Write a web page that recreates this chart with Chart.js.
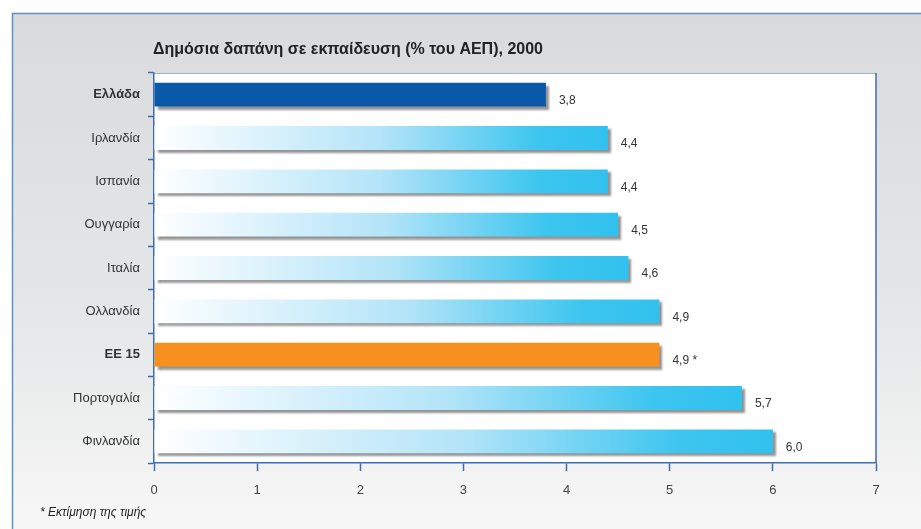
<!DOCTYPE html>
<html>
<head>
<meta charset="utf-8">
<script src="https://cdn.jsdelivr.net/npm/chart.js@4.4.1/dist/chart.umd.min.js"></script>
<style>
  html, body { margin: 0; padding: 0; background: #fff; }
  #wrap { width: 921px; height: 529px; position: relative; }
</style>
</head>
<body>
<div id="wrap"><canvas id="BarChart" width="921" height="529"></canvas></div>
<script>
// 데이터
const countries = ['Ελλάδα', 'Ιρλανδία', 'Ισπανία', 'Ουγγαρία', 'Ιταλία', 'Ολλανδία', 'ΕΕ 15', 'Πορτογαλία', 'Φινλανδία'];
const spending = [3.8, 4.4, 4.4, 4.5, 4.6, 4.9, 4.9, 5.7, 6.0];
const valueLabels = ['3,8', '4,4', '4,4', '4,5', '4,6', '4,9', '4,9 *', '5,7', '6,0'];
const xTicks = [0, 1, 2, 3, 4, 5, 6, 7];
const boldRows = ['Ελλάδα', 'ΕΕ 15'];

const titleText = 'Δημόσια δαπάνη σε εκπαίδευση (% του ΑΕΠ), 2000';
const footText = '* Εκτίμηση της τιμής';
const FONT = '"Liberation Sans", Arial, sans-serif';
const AXIS_BLUE = '#3d6db3';

// 막대 색: 그리스는 진한 파랑, EU15는 주황, 나머지는 그라데이션
const barColor = (context) => {
    const label = countries[context.dataIndex];
    if (label === 'Ελλάδα') return '#0b5aa9';
    if (label === 'ΕΕ 15') return '#f7901e';
    const chart = context.chart;
    const area = chart.chartArea;
    if (!area) return '#8fd6f5';
    const xs = chart.scales.x;
    const x0 = xs.getPixelForValue(0);
    const x1 = xs.getPixelForValue(spending[context.dataIndex]);
    const g = chart.ctx.createLinearGradient(x0, 0, x1, 0);
    g.addColorStop(0, '#ffffff');
    g.addColorStop(0.5, '#b3e4f8');
    g.addColorStop(0.85, '#3cc5ef');
    g.addColorStop(1, '#31c1ee');
    return g;
};

// 배경 + 바깥 테두리 + 플롯 영역
const backgroundPlugin = {
    id: 'backgroundPlugin',
    beforeDraw: (chart) => {
        const { ctx, chartArea, width, height } = chart;
        ctx.save();
        ctx.fillStyle = '#ffffff';
        ctx.fillRect(0, 0, width, height);
        const bg = ctx.createLinearGradient(0, 13, 0, height);
        bg.addColorStop(0, '#d9dadc');
        bg.addColorStop(0.6, '#e6e7e8');
        bg.addColorStop(1, '#f7f7f7');
        ctx.fillStyle = bg;
        ctx.fillRect(12, 13, width - 12, height - 13);
        ctx.strokeStyle = '#5b93c9';
        ctx.lineWidth = 1.5;
        ctx.beginPath();
        ctx.moveTo(12.5, height);
        ctx.lineTo(12.5, 13.5);
        ctx.lineTo(width, 13.5);
        ctx.stroke();
        if (chartArea) {
            ctx.fillStyle = '#ffffff';
            ctx.fillRect(chartArea.left, chartArea.top, chartArea.right - chartArea.left, chartArea.bottom - chartArea.top);
            ctx.strokeStyle = '#9fb4d4';
            ctx.lineWidth = 1;
            ctx.beginPath();
            ctx.moveTo(chartArea.left, chartArea.top + 0.5);
            ctx.lineTo(chartArea.right + 0.5, chartArea.top + 0.5);
            ctx.stroke();
            ctx.strokeStyle = AXIS_BLUE;
            ctx.lineWidth = 1.5;
            ctx.beginPath();
            ctx.moveTo(chartArea.right, chartArea.top);
            ctx.lineTo(chartArea.right, chartArea.bottom);
            ctx.stroke();
        }
        // 제목, 각주
        ctx.fillStyle = '#222';
        ctx.textBaseline = 'middle';
        ctx.textAlign = 'left';
        ctx.font = 'bold 16px ' + FONT;
        ctx.fillText(titleText, 153, 50);
        ctx.font = 'italic 12px ' + FONT;
        ctx.fillText(footText, 40, 513);
        ctx.restore();
    }
};

// 막대 그림자
const shadowPlugin = {
    id: 'shadowPlugin',
    beforeDatasetDraw: (chart) => {
        const ctx = chart.ctx;
        ctx.save();
        ctx.shadowColor = 'rgba(60, 60, 60, 0.55)';
        ctx.shadowOffsetX = 3;
        ctx.shadowOffsetY = 3;
        ctx.shadowBlur = 2;
    },
    afterDatasetDraw: (chart) => {
        chart.ctx.restore();
    }
};

// 막대 끝 숫자 라벨
const valuePlugin = {
    id: 'valuePlugin',
    afterDatasetsDraw: (chart) => {
        const { ctx } = chart;
        const meta = chart.getDatasetMeta(0);
        ctx.save();
        ctx.font = '12px ' + FONT;
        ctx.fillStyle = '#333';
        ctx.textAlign = 'left';
        ctx.textBaseline = 'middle';
        meta.data.forEach((bar, i) => {
            ctx.fillText(valueLabels[i], bar.x + 13, bar.y + 6);
        });
        ctx.restore();
    }
};

const bar_chart = () => {
    const ctx = document.getElementById('BarChart');
    if (!ctx) return;

    new Chart(ctx, {
        type: 'bar',
        data: {
            labels: countries,
            datasets: [{
                data: spending,
                backgroundColor: barColor,
                borderWidth: 0,
                barPercentage: 0.55,
                categoryPercentage: 1
            }]
        },
        options: {
            indexAxis: 'y',
            responsive: false,
            animation: false,
            layout: { padding: { top: 73, right: 45, bottom: 26, left: 0 } },
            plugins: {
                legend: { display: false },
                tooltip: { enabled: false }
            },
            scales: {
                x: {
                    min: 0,
                    max: 7,
                    afterBuildTicks: (scale) => {
                        scale.ticks = xTicks.map(v => ({ value: v }));
                    },
                    afterFit: (scale) => { scale.height = 40; },
                    grid: {
                        drawOnChartArea: false,
                        drawTicks: true,
                        tickLength: 8,
                        tickWidth: 1.5,
                        color: AXIS_BLUE
                    },
                    border: { color: AXIS_BLUE, width: 1.5 },
                    ticks: {
                        padding: 12,
                        color: '#444',
                        font: { family: FONT, size: 13 }
                    }
                },
                y: {
                    afterFit: (scale) => { scale.width = 154; },
                    grid: {
                        offset: true,
                        drawOnChartArea: false,
                        tickLength: 6,
                        tickWidth: 1.5,
                        color: AXIS_BLUE
                    },
                    border: { color: AXIS_BLUE, width: 1.5 },
                    ticks: {
                        padding: 8,
                        color: '#333',
                        font: (c) => ({
                            family: FONT,
                            size: 13,
                            weight: boldRows.includes(countries[c.index]) ? 'bold' : 'normal'
                        })
                    }
                }
            }
        },
        plugins: [backgroundPlugin, shadowPlugin, valuePlugin]
    });
};

document.addEventListener('DOMContentLoaded', () => {
    bar_chart();
});
</script>
</body>
</html>
